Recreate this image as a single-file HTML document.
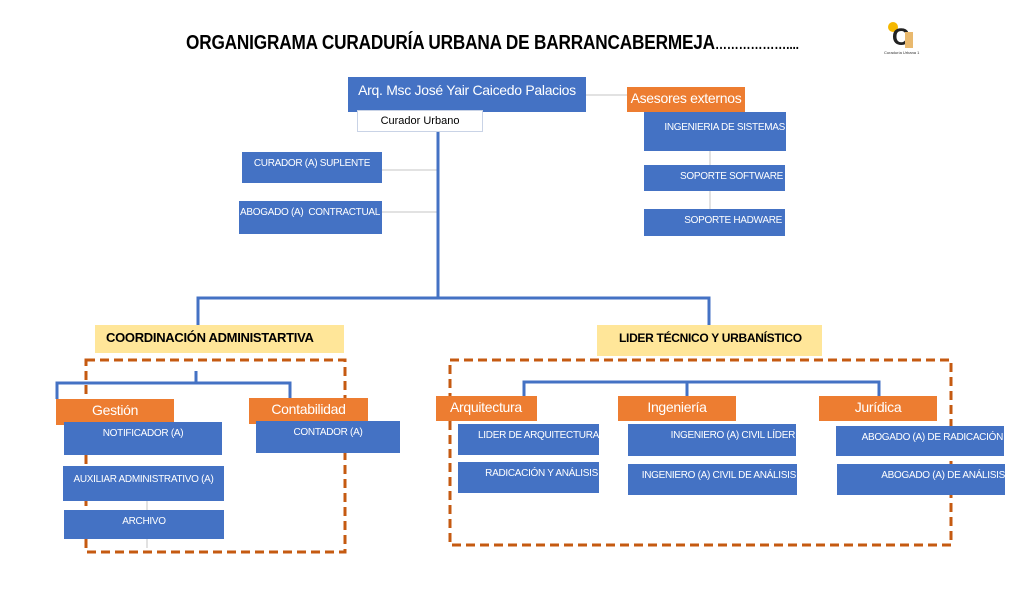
<!DOCTYPE html>
<html><head><meta charset="utf-8"><style>
body{margin:0;width:1024px;height:597px;background:#fff;position:relative;overflow:hidden;font-family:"Liberation Sans",sans-serif}
.a{position:absolute;box-sizing:border-box}
.b{background:#4472c4;color:#fff;font-size:10px;text-align:center;padding-top:6px;white-space:nowrap;letter-spacing:-0.3px}
.o{background:#ed7d31;color:#fff;font-size:14px;text-align:center;padding-top:3px;white-space:nowrap;letter-spacing:-0.3px}
.y{background:#ffe699;color:#000;font-weight:bold;font-size:13px;padding-top:5px;white-space:nowrap;letter-spacing:-0.3px}
</style></head><body>
<svg class="a" style="left:0;top:0" width="1024" height="597">
<g stroke="#d9d9d9" stroke-width="1.5" fill="none">
<line x1="586" y1="95" x2="627" y2="95"/>
<line x1="382" y1="170" x2="438" y2="170"/>
<line x1="382" y1="212" x2="438" y2="212"/>
<line x1="710" y1="151" x2="710" y2="209"/>
<line x1="147" y1="501" x2="147" y2="548"/>
</g>
<g stroke="#4472c4" stroke-width="3" fill="none">
<line x1="438" y1="132" x2="438" y2="298"/>
<polyline points="198,325 198,298 709,298 709,325"/>
<line x1="196" y1="371" x2="196" y2="383"/>
<polyline points="57,399 57,383 290,383 290,398"/>
<polyline points="524,398 524,382 879,382 879,398"/>
<line x1="687" y1="382" x2="687" y2="398"/>
</g>
<g stroke="#c55a11" stroke-width="3" stroke-dasharray="9,5" fill="none">
<rect x="86" y="360" width="259" height="192"/>
<rect x="450" y="360" width="501" height="185"/>
</g>
</svg>
<div class="a" style="left:186px;top:32px;font-weight:bold;font-size:20px;white-space:nowrap;transform:scaleX(0.86);transform-origin:left top;letter-spacing:-0.2px">ORGANIGRAMA CURADURÍA URBANA DE BARRANCABERMEJA<span style="font-size:14px">………………....</span></div>
<div class="a" style="left:888px;top:22px;width:30px;height:32px">
<div class="a" style="left:0;top:0;width:10px;height:10px;border-radius:50%;background:#f5b800"></div>
<div class="a" style="left:4px;top:4px;font-weight:bold;font-size:24px;line-height:24px;color:#222">C</div>
<div class="a" style="left:17px;top:10px;width:8px;height:16px;background:#e9b96e"></div>
<div class="a" style="left:-4px;top:28px;font-size:4px;color:#333;white-space:nowrap">Curaduría Urbana 1</div>
</div>
<div class="a b" style="left:348px;top:77px;width:238px;height:35px;font-size:14px;padding-top:5px">Arq. Msc José Yair Caicedo Palacios</div>
<div class="a" style="left:357px;top:110px;width:126px;height:22px;background:#fff;border:1px solid #c9d3e6;font-size:11px;text-align:center;padding-top:4px">Curador Urbano</div>
<div class="a o" style="left:627px;top:87px;width:118px;height:25px">Asesores externos</div>
<div class="a b" style="left:644px;top:112px;width:142px;height:39px;text-align:right;padding-right:1px;padding-top:10px">INGENIERIA DE SISTEMAS</div>
<div class="a b" style="left:644px;top:165px;width:141px;height:26px;text-align:right;padding-right:2px">SOPORTE SOFTWARE</div>
<div class="a b" style="left:644px;top:209px;width:141px;height:27px;text-align:right;padding-right:3px">SOPORTE HADWARE</div>
<div class="a b" style="left:242px;top:152px;width:140px;height:31px">CURADOR (A) SUPLENTE</div>
<div class="a b" style="left:239px;top:201px;width:143px;height:33px;text-align:left;padding-left:1px">ABOGADO (A)&nbsp; CONTRACTUAL</div>
<div class="a y" style="left:95px;top:325px;width:249px;height:28px;padding-left:11px">COORDINACIÓN ADMINISTARTIVA</div>
<div class="a y" style="left:597px;top:325px;width:225px;height:31px;padding-left:22px;font-size:12px;padding-top:6px">LIDER TÉCNICO Y URBANÍSTICO</div>
<div class="a o" style="left:56px;top:399px;width:118px;height:26px;text-align:left;padding-left:36px">Gestión</div>
<div class="a o" style="left:249px;top:398px;width:119px;height:26px">Contabilidad</div>
<div class="a b" style="left:64px;top:422px;width:158px;height:33px">NOTIFICADOR (A)</div>
<div class="a b" style="left:256px;top:421px;width:144px;height:32px">CONTADOR (A)</div>
<div class="a b" style="left:63px;top:466px;width:161px;height:35px;padding-top:8px">AUXILIAR ADMINISTRATIVO (A)</div>
<div class="a b" style="left:64px;top:510px;width:160px;height:29px">ARCHIVO</div>
<div class="a o" style="left:436px;top:396px;width:101px;height:25px;text-align:left;padding-left:14px">Arquitectura</div>
<div class="a o" style="left:618px;top:396px;width:118px;height:25px">Ingeniería</div>
<div class="a o" style="left:819px;top:396px;width:118px;height:25px">Jurídica</div>
<div class="a b" style="left:458px;top:424px;width:141px;height:31px;text-align:right;padding-right:0">LIDER DE ARQUITECTURA</div>
<div class="a b" style="left:458px;top:462px;width:141px;height:31px;text-align:right;padding-right:1px">RADICACIÓN Y ANÁLISIS</div>
<div class="a b" style="left:628px;top:424px;width:168px;height:32px;text-align:right;padding-right:1px">INGENIERO (A) CIVIL LÍDER</div>
<div class="a b" style="left:628px;top:464px;width:169px;height:31px;text-align:right;padding-right:1px">INGENIERO (A) CIVIL DE ANÁLISIS</div>
<div class="a b" style="left:836px;top:426px;width:168px;height:30px;text-align:right;padding-right:1px">ABOGADO (A) DE RADICACIÓN</div>
<div class="a b" style="left:837px;top:464px;width:168px;height:31px;text-align:right;padding-right:0">ABOGADO (A) DE ANÁLISIS</div>
</body></html>
